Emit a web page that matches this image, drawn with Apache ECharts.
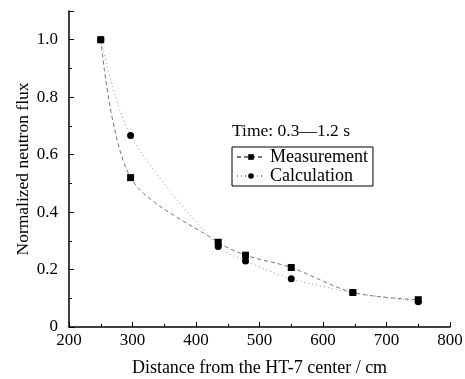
<!DOCTYPE html>
<html>
<head>
<meta charset="utf-8">
<script src="https://cdn.jsdelivr.net/npm/echarts@6/dist/echarts.min.js"></script>
<style>
  html, body { margin: 0; padding: 0; background: #fff; }
  #main { width: 465px; height: 379px; }
</style>
</head>
<body>
<div id="main"></div>
<script>
// data
const distance = [250, 297, 435, 478, 550, 647, 750];
const measurement = [1.0, 0.52, 0.295, 0.25, 0.207, 0.12, 0.095];
const calculation = [1.0, 0.667, 0.28, 0.23, 0.168, 0.12, 0.088];

const pairs = (xs, ys) => xs.map((x, i) => [x, ys[i]]);
const serif = 'Liberation Serif';

let myChart = echarts.init(document.getElementById('main'));
let option = {
  backgroundColor: '#fff',
  animation: false,
  title: {
    text: 'Time: 0.3\u20141.2 s',
    left: 227,
    top: 117,
    textStyle: { fontFamily: serif, fontSize: 17.5, fontWeight: 'normal', color: '#000' }
  },
  legend: {
    left: 232,
    top: 147,
    orient: 'vertical',
    itemWidth: 28,
    itemHeight: 7,
    itemGap: 1,
    padding: [1, 5, 1, 4],
    borderColor: '#000',
    borderWidth: 1,
    textStyle: { fontFamily: serif, fontSize: 18, color: '#000' },
    data: ['Measurement', 'Calculation']
  },
  grid: { left: 69, right: 15, top: 11, bottom: 52, outerBoundsMode: 'none' },
  xAxis: {
    type: 'value',
    min: 200,
    max: 800,
    interval: 100,
    name: 'Distance from the HT-7 center / cm',
    nameLocation: 'middle',
    nameGap: 32,
    nameMoveOverlap: false,
    nameTextStyle: { fontFamily: serif, fontSize: 18, color: '#000' },
    axisLine: { lineStyle: { color: '#000', width: 1.5 } },
    axisTick: { inside: true, length: 5, lineStyle: { color: '#000' } },
    minorTick: { show: true, splitNumber: 2, length: 3, lineStyle: { color: '#000' } },
    axisLabel: { fontFamily: serif, fontSize: 17, color: '#000', margin: 5 },
    splitLine: { show: false }
  },
  yAxis: {
    type: 'value',
    min: 0,
    max: 1.1,
    interval: 0.2,
    name: 'Normalized neutron flux',
    nameLocation: 'middle',
    nameGap: 37,
    nameMoveOverlap: false,
    nameTextStyle: { fontFamily: serif, fontSize: 17.5, color: '#000' },
    axisLine: { show: true, lineStyle: { color: '#000', width: 1.5 } },
    axisTick: { inside: true, length: 5, lineStyle: { color: '#000' } },
    minorTick: { show: true, splitNumber: 2, length: 3, lineStyle: { color: '#000' } },
    axisLabel: {
      fontFamily: serif, fontSize: 17, color: '#000', margin: 11, showMaxLabel: false,
      formatter: v => v === 0 ? '0' : v.toFixed(1)
    },
    splitLine: { show: false }
  },
  series: [
    {
      name: 'Measurement',
      type: 'line',
      data: pairs(distance, measurement),
      smooth: 0.3,
      symbol: 'rect',
      symbolSize: 7,
      itemStyle: { color: '#000' },
      lineStyle: { color: '#777', width: 1, type: [4, 3] }
    },
    {
      name: 'Calculation',
      type: 'line',
      data: pairs(distance, calculation),
      smooth: 0.3,
      symbol: 'circle',
      symbolSize: 7,
      itemStyle: { color: '#000' },
      lineStyle: { color: '#999', width: 1, type: [1, 3] }
    }
  ]
};
myChart.setOption(option);
</script>
</body>
</html>
